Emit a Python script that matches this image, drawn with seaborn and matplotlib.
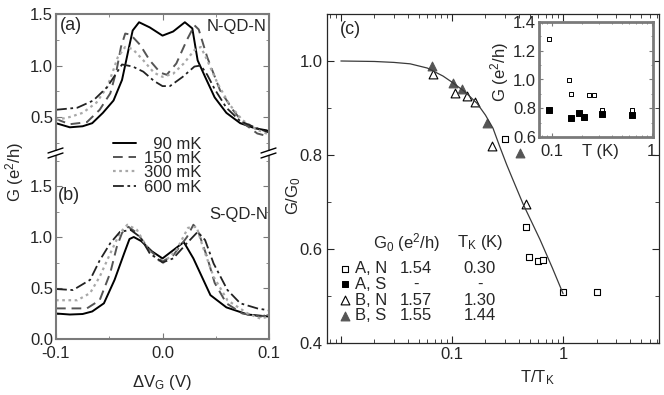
import seaborn as sns
import pandas as pd
import matplotlib.pyplot as plt
from matplotlib.ticker import MultipleLocator, FormatStrFormatter, FixedLocator, FixedFormatter, LogLocator, NullFormatter
from matplotlib.lines import Line2D

# ---- panel (a): N-QD-N, G (e^2/h) vs gate voltage
a90_v = [-0.1, -0.087, -0.075, -0.066, -0.056, -0.046, -0.038, -0.032, -0.028, -0.022, -0.012, 0.0, 0.01, 0.021, 0.028, 0.033, 0.04, 0.049, 0.06, 0.073, 0.087, 0.098, 0.1]
a90_g = [0.44, 0.40, 0.41, 0.44, 0.54, 0.66, 0.86, 1.15, 1.34, 1.42, 1.37, 1.29, 1.33, 1.42, 1.36, 1.05, 0.89, 0.69, 0.54, 0.44, 0.39, 0.37, 0.35]
a150_v = [-0.1, -0.087, -0.071, -0.059, -0.049, -0.043, -0.039, -0.035, -0.03, -0.021, -0.012, -0.002, 0.004, 0.013, 0.023, 0.03, 0.034, 0.042, 0.054, 0.066, 0.076, 0.089, 0.1]
a150_g = [0.48, 0.43, 0.45, 0.57, 0.73, 0.96, 1.18, 1.31, 1.30, 1.20, 1.05, 0.93, 0.91, 1.02, 1.25, 1.39, 1.35, 1.08, 0.76, 0.57, 0.44, 0.34, 0.31]
a300_v = [-0.1, -0.087, -0.075, -0.062, -0.052, -0.046, -0.042, -0.035, -0.028, -0.018, -0.008, 0.0, 0.01, 0.02, 0.03, 0.036, 0.042, 0.052, 0.063, 0.075, 0.088, 0.1]
a300_g = [0.47, 0.50, 0.54, 0.64, 0.79, 0.96, 1.08, 1.18, 1.16, 1.05, 0.93, 0.89, 0.92, 1.02, 1.15, 1.18, 1.05, 0.82, 0.62, 0.47, 0.38, 0.33]
a600_v = [-0.1, -0.08, -0.065, -0.052, -0.043, -0.038, -0.028, -0.018, -0.008, 0.0, 0.007, 0.019, 0.03, 0.036, 0.042, 0.049, 0.06, 0.073, 0.089, 0.1]
a600_g = [0.57, 0.59, 0.66, 0.79, 0.93, 1.01, 0.99, 0.94, 0.85, 0.80, 0.80, 0.89, 0.99, 1.0, 0.91, 0.77, 0.59, 0.46, 0.39, 0.35]

# ---- panel (b): S-QD-N
b90_v = [-0.1, -0.087, -0.075, -0.066, -0.055, -0.045, -0.036, -0.031, -0.027, -0.02, -0.01, 0.0, 0.01, 0.02, 0.029, 0.037, 0.045, 0.06, 0.08, 0.1]
b90_g = [0.25, 0.24, 0.245, 0.27, 0.35, 0.58, 0.84, 0.98, 1.0, 0.96, 0.86, 0.79, 0.87, 0.95, 0.79, 0.61, 0.43, 0.31, 0.24, 0.22]
b150_v = [-0.1, -0.085, -0.071, -0.059, -0.049, -0.043, -0.038, -0.032, -0.024, -0.012, 0.0, 0.01, 0.023, 0.029, 0.033, 0.042, 0.049, 0.06, 0.075, 0.092, 0.1]
b150_g = [0.30, 0.30, 0.30, 0.38, 0.65, 0.90, 1.04, 1.10, 1.04, 0.87, 0.76, 0.82, 1.0, 1.12, 1.07, 0.80, 0.55, 0.35, 0.25, 0.22, 0.24]
b300_v = [-0.1, -0.08, -0.068, -0.059, -0.049, -0.04, -0.033, -0.024, -0.012, 0.0, 0.013, 0.024, 0.032, 0.038, 0.048, 0.061, 0.08, 0.092, 0.1]
b300_g = [0.38, 0.38, 0.45, 0.61, 0.84, 1.04, 1.12, 1.07, 0.85, 0.74, 0.87, 1.09, 1.10, 0.90, 0.61, 0.38, 0.25, 0.20, 0.22]
b600_v = [-0.1, -0.084, -0.068, -0.059, -0.049, -0.04, -0.03, -0.021, -0.012, 0.0, 0.01, 0.023, 0.033, 0.04, 0.048, 0.061, 0.073, 0.089, 0.1]
b600_g = [0.49, 0.48, 0.58, 0.77, 0.94, 1.05, 1.07, 1.0, 0.84, 0.75, 0.79, 0.94, 1.05, 0.97, 0.74, 0.48, 0.35, 0.30, 0.28]

temp_labels = ['  90 mK', '150 mK', '300 mK', '600 mK']

# ---- panel (c): G/G0 vs T/TK
fit_t = [0.01, 0.02, 0.03, 0.042, 0.06, 0.083, 0.1, 0.13, 0.168, 0.2, 0.234, 0.27, 0.31, 0.347, 0.436, 0.52, 0.62, 0.8, 1.0]
fit_g = [1.0, 0.999, 0.997, 0.994, 0.985, 0.968, 0.955, 0.935, 0.91, 0.885, 0.857, 0.817, 0.78, 0.752, 0.696, 0.658, 0.62, 0.56, 0.505]
an_t = [0.30, 0.46, 0.49, 0.60, 0.66, 1.0, 2.0]
an_g = [0.834, 0.647, 0.582, 0.575, 0.577, 0.508, 0.508]
bn_t = [0.067, 0.107, 0.137, 0.16, 0.23, 0.46]
bn_g = [0.972, 0.932, 0.925, 0.913, 0.819, 0.696]
bs_t = [0.066, 0.102, 0.123, 0.207, 0.41]
bs_g = [0.989, 0.953, 0.940, 0.868, 0.804]

# ---- inset: G (e^2/h) vs T (K), sample A
ins_an_t = [0.095, 0.148, 0.158, 0.234, 0.263, 0.316, 0.63]
ins_an_g = [1.284, 1.0, 0.90, 0.89, 0.89, 0.79, 0.79]
ins_as_t = [0.095, 0.158, 0.19, 0.209, 0.316, 0.63]
ins_as_g = [0.79, 0.73, 0.77, 0.74, 0.76, 0.755]

row_names = ['A, N', 'A, S', 'B, N', 'B, S']
g0_vals = ['1.54', '-', '1.57', '1.55']
tk_vals = ['0.30', '-', '1.30', '1.44']

sns.set_style('ticks')
plt.rcParams['font.family'] = ['Liberation Sans', 'DejaVu Sans']
plt.rcParams['mathtext.default'] = 'regular'
plt.rcParams['font.size'] = 12

W, H = 664, 395
fig = plt.figure(figsize=(W / 100, H / 100), dpi=100)


def box(x0, y0, x1, y1):
    # pixel box (top-left origin) -> figure fraction
    return [x0 / W, 1 - y1 / H, (x1 - x0) / W, (y1 - y0) / H]


grey = '#7a7a7a'
styles = [dict(color='black', lw=1.4, linestyle='-'),
          dict(color='#555555', lw=1.4, linestyle=(0, (5, 3))),
          dict(color='#a8a8a8', lw=1.6, linestyle=(0, (1.2, 1.6))),
          dict(color='#222222', lw=1.3, linestyle=(0, (6, 2, 1.5, 2)))]

ax_a = fig.add_axes(box(56, 14, 269, 150))
ax_b = fig.add_axes(box(56, 156, 269, 339))

for v, g, st in zip([a90_v, a150_v, a300_v, a600_v], [a90_g, a150_g, a300_g, a600_g], styles):
    sns.lineplot(x=v, y=g, ax=ax_a, sort=False, estimator=None, **st)
for v, g, st in zip([b90_v, b150_v, b300_v, b600_v], [b90_g, b150_g, b300_g, b600_g], styles):
    sns.lineplot(x=v, y=g, ax=ax_b, sort=False, estimator=None, **st)

ax_a.set_ylim(1.5 - 136 / 103, 1.5)
ax_b.set_ylim(0, 183 / 102)
for ax in (ax_a, ax_b):
    ax.set_xlim(-0.1, 0.1)
    ax.xaxis.set_major_locator(FixedLocator([-0.1, 0.0, 0.1]))
    ax.xaxis.set_minor_locator(MultipleLocator(0.05))
    ax.yaxis.set_major_locator(MultipleLocator(0.5))
    ax.yaxis.set_minor_locator(MultipleLocator(0.25))
    ax.yaxis.set_major_formatter(FormatStrFormatter('%.1f'))
    ax.tick_params(which='both', direction='in', right=True, labelsize=12, color=grey, pad=2)
    ax.tick_params(which='major', length=4)
    ax.tick_params(which='minor', length=2.5)
    for s in ax.spines.values():
        s.set_color(grey)
        s.set_linewidth(1.5)
    ax.set_xlabel('')
    ax.set_ylabel('')
ax_a.spines['bottom'].set_visible(False)
ax_a.tick_params(which='both', bottom=False, labelbottom=False, top=True)
ax_b.spines['top'].set_visible(False)
ax_b.tick_params(which='both', top=False)
ax_b.tick_params(axis='x', pad=5)
ax_b.xaxis.set_major_formatter(FixedFormatter(['-0.1', '0.0', '0.1']))

# axis break marks
for xp in (56, 269):
    for yp in (150.5, 155.5):
        fig.add_artist(Line2D([(xp - 8) / W, (xp + 7) / W], [1 - (yp + 2.5) / H, 1 - (yp - 2.5) / H],
                              color='black', lw=1.0))

fig.text(60 / W, 1 - 25 / H, '(a)', fontsize=13, va='center')
fig.text(267 / W, 1 - 26 / H, 'N-QD-N', fontsize=12, va='center', ha='right')
fig.text(58 / W, 1 - 196 / H, '(b)', fontsize=13, va='center')
fig.text(268 / W, 1 - 215 / H, 'S-QD-N', fontsize=12, va='center', ha='right')
fig.text(15 / W, 1 - 172 / H, 'G (e$^2$/h)', rotation=90, va='center', ha='center', fontsize=12)
fig.text(162 / W, 1 - 382 / H, '$\\Delta$V$_G$ (V)', va='center', ha='center', fontsize=12)

fig.legend(handles=ax_a.get_lines(), labels=temp_labels, loc='upper left',
           bbox_to_anchor=(113 / W, 1 - 137 / H), frameon=False, fontsize=12,
           handlelength=1.4, handletextpad=0.45, labelspacing=-0.05, borderpad=0, borderaxespad=0)

# ---- panel (c)
ax_c = fig.add_axes(box(327, 14, 659, 343))
sns.lineplot(x=fit_t, y=fit_g, ax=ax_c, color='#3a3a3a', lw=0.9, sort=False, estimator=None)
sns.scatterplot(x=an_t, y=an_g, ax=ax_c, marker='s', s=18, facecolor='white', edgecolor='black', linewidth=0.8)
sns.scatterplot(x=bn_t, y=bn_g, ax=ax_c, marker='^', s=40, facecolor='white', edgecolor='black', linewidth=0.8)
sns.scatterplot(x=bs_t, y=bs_g, ax=ax_c, marker='^', s=40, facecolor='#555555', edgecolor='#555555', linewidth=0.8)
ax_c.set_xscale('log')
ax_c.set_xlim(0.0075, 7.3)
ax_c.set_ylim(0.4, 1.1)
ax_c.xaxis.set_major_locator(FixedLocator([0.01, 0.1, 1]))
ax_c.xaxis.set_major_formatter(FixedFormatter(['', '0.1', '1']))
ax_c.xaxis.set_minor_locator(LogLocator(base=10, subs=range(2, 10)))
ax_c.xaxis.set_minor_formatter(NullFormatter())
ax_c.yaxis.set_major_locator(MultipleLocator(0.2))
ax_c.yaxis.set_minor_locator(MultipleLocator(0.1))
ax_c.yaxis.set_major_formatter(FormatStrFormatter('%.1f'))
ax_c.tick_params(which='both', direction='in', top=True, right=True, labelsize=12, pad=3)
ax_c.tick_params(which='major', length=5)
ax_c.tick_params(which='minor', length=3)
for s in ax_c.spines.values():
    s.set_linewidth(0.9)
ax_c.set_xlabel('')
ax_c.set_ylabel('')
fig.text(340 / W, 1 - 29 / H, '(c)', fontsize=13, va='center')
fig.text(294 / W, 1 - 196 / H, 'G/G$_0$', rotation=90, va='center', ha='center', fontsize=12)
fig.text(537 / W, 1 - 378 / H, 'T/T$_K$', va='center', ha='center', fontsize=12)

# ---- inset
ax_in = fig.add_axes(box(539, 22, 653, 137))
ax_in.set_facecolor('white')
sns.scatterplot(x=ins_an_t, y=ins_an_g, ax=ax_in, marker='s', s=10, facecolor='white', edgecolor='black', linewidth=0.7)
sns.scatterplot(x=ins_as_t, y=ins_as_g, ax=ax_in, marker='s', s=13, facecolor='black', edgecolor='black', linewidth=0.7)
ax_in.set_xscale('log')
ax_in.set_xlim(0.075, 1.03)
ax_in.set_ylim(0.6, 1.4)
ax_in.xaxis.set_major_locator(FixedLocator([0.1, 1]))
ax_in.xaxis.set_major_formatter(FixedFormatter(['0.1', '1']))
ax_in.xaxis.set_minor_locator(LogLocator(base=10, subs=range(2, 10)))
ax_in.xaxis.set_minor_formatter(NullFormatter())
ax_in.yaxis.set_major_locator(MultipleLocator(0.2))
ax_in.yaxis.set_minor_locator(MultipleLocator(0.1))
ax_in.yaxis.set_major_formatter(FormatStrFormatter('%.1f'))
ax_in.tick_params(which='both', direction='in', top=True, right=True, labelsize=12, pad=2, color=grey)
ax_in.tick_params(axis='x', pad=5)
ax_in.tick_params(which='major', length=3)
ax_in.tick_params(which='minor', length=1.5)
for s in ax_in.spines.values():
    s.set_color(grey)
    s.set_linewidth(2)
ax_in.set_xlabel('')
ax_in.set_ylabel('')
fig.text(500 / W, 1 - 72 / H, 'G (e$^2$/h)', rotation=90, va='center', ha='center', fontsize=12)
fig.text(600 / W, 1 - 151 / H, 'T (K)', va='center', ha='center', fontsize=12)

# ---- table legend in (c)
handles = [ax_c.collections[0], ax_in.collections[1], ax_c.collections[1], ax_c.collections[2]]
leg = ax_c.legend(handles=handles, labels=row_names, loc='upper left',
                  bbox_to_anchor=(338 / W, 1 - 261 / H), bbox_transform=fig.transFigure,
                  frameon=False, fontsize=12, handlelength=0.8, handletextpad=0.2,
                  labelspacing=0.05, borderpad=0, borderaxespad=0)
fig.text(373 / W, 1 - 243 / H, 'G$_0$ (e$^2$/h)', va='center', ha='left', fontsize=12)
fig.text(457 / W, 1 - 243 / H, 'T$_K$ (K)', va='center', ha='left', fontsize=12)

fig.canvas.draw()
inv = fig.transFigure.inverted()
for txt, g0, tk in zip(leg.get_texts(), g0_vals, tk_vals):
    bb = txt.get_window_extent()
    yc = inv.transform((0, (bb.y0 + bb.y1) / 2))[1]
    fig.text(416 / W, yc, g0, va='center', ha='center', fontsize=12)
    fig.text(480 / W, yc, tk, va='center', ha='center', fontsize=12)

fig.savefig('out.png', dpi=100)
